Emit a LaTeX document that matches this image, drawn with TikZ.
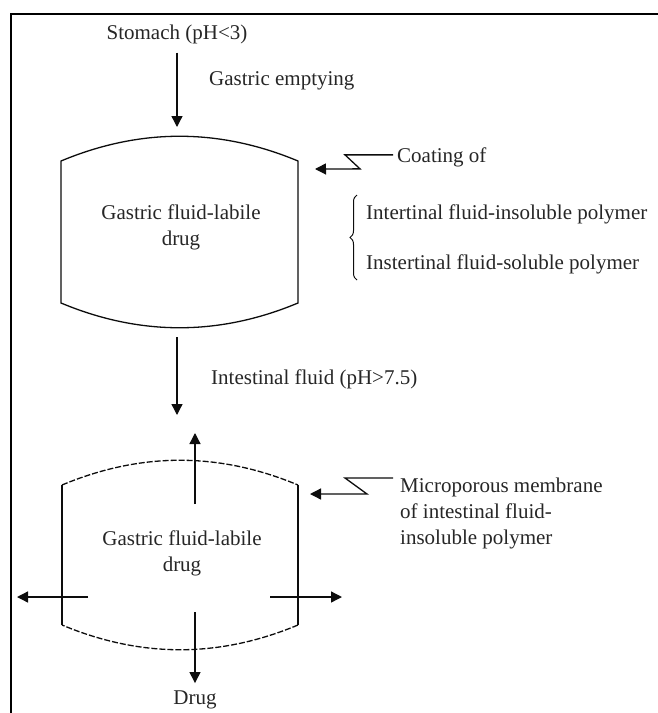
\documentclass[tikz,border=0pt]{standalone}
\usepackage{fontspec}
\setmainfont{Liberation Serif}
\usetikzlibrary{arrows.meta,calc,decorations.pathreplacing}
\definecolor{TextClr}{gray}{0.15}
\definecolor{LineClr}{gray}{0.05}

\begin{document}
\begin{tikzpicture}[x=1pt,y=-1pt,
  font=\fontsize{21}{26}\selectfont,
  txt/.style={text=TextClr,inner sep=0pt},
  wall/.style={line width=1.3pt,color=LineClr},
  membrane/.style={wall,dash pattern=on 6pt off 2pt},
  flow/.style={line width=1.3pt,color=LineClr,-{Triangle[length=11pt,width=11pt]}}]
\useasboundingbox (0,0) rectangle (658,713);
\draw[line width=1.8pt] (11,713) -- (11,14) -- (658,14);

% coated tablet
\coordinate (A) at (61,161);
\coordinate (B) at (298,161);
\coordinate (C) at (298,303);
\coordinate (D) at (61,303);
\draw[wall] (A) .. controls (140,128) and (219,128) .. (B) -- (C)
  .. controls (219,336) and (140,336) .. (D) -- cycle;

% tablet with microporous membrane
\coordinate (E) at (62,485);
\coordinate (F) at (298,485);
\coordinate (G) at (298,625);
\coordinate (H) at (62,625);
\draw[membrane] (E) .. controls (141,452) and (219,452) .. (F);
\draw[wall] (F) -- (G);
\draw[membrane] (G) .. controls (219,658) and (141,658) .. (H);
\draw[wall] (H) -- (E);

% labels
\node[txt,anchor=base] (stomach) at (177,39) {Stomach (pH<3)};
\node[txt,anchor=base west] (emptying) at (209,85) {Gastric emptying};
\node[txt,align=center] (core1) at (181,227) {Gastric fluid-labile\\drug};
\node[txt,anchor=base west] (coating) at (397,162) {Coating of};
\node[txt,anchor=base west] (insol) at (366,219) {Intertinal fluid-insoluble polymer};
\node[txt,anchor=base west] (sol) at (366,269) {Instertinal fluid-soluble polymer};
\node[txt,anchor=base west] (intest) at (211,384) {Intestinal fluid (pH>7.5)};
\node[txt,align=center] (core2) at (182,553) {Gastric fluid-labile\\drug};
\node[txt,anchor=north west,align=left] (memlabel) at (400,478)
  {Microporous membrane\\of intestinal fluid-\\insoluble polymer};
\node[txt,anchor=base] (drug) at (195,704) {Drug};

% arrows
\coordinate (top1) at (177,127);
\coordinate (out1) at (177,337);
\coordinate (top2) at (177,415);
\coordinate (tip1) at (315,169);
\coordinate (tip2) at (310,494);
\draw[flow] ([yshift=-9pt]stomach.south) -- (top1);
\draw[flow] (out1) -- (top2);
\draw[flow] ([xshift=-4pt]coating.west) ++(0,-2) -- ++(-48,0) -- ++(15,14) -- (tip1);
\draw[flow] ([xshift=-7pt]memlabel.north west) -- ++(-48,0) -- ++(22,16) -- (tip2);
\draw[decorate,decoration={brace,amplitude=7pt},line width=1pt,color=LineClr]
  (357,280) -- (357,195);

% release of drug
\coordinate (up0) at (195,504);
\coordinate (up1) at (195,433);
\coordinate (lf0) at (88,597);
\coordinate (lf1) at (17,597);
\coordinate (rt0) at (270,597);
\coordinate (rt1) at (342,597);
\coordinate (dn0) at (195,612);
\draw[flow] (up0) -- (up1);
\draw[flow] (lf0) -- (lf1);
\draw[flow] (rt0) -- (rt1);
\draw[flow] (dn0) -- ([yshift=7pt]drug.north);

\end{tikzpicture}
\end{document}
